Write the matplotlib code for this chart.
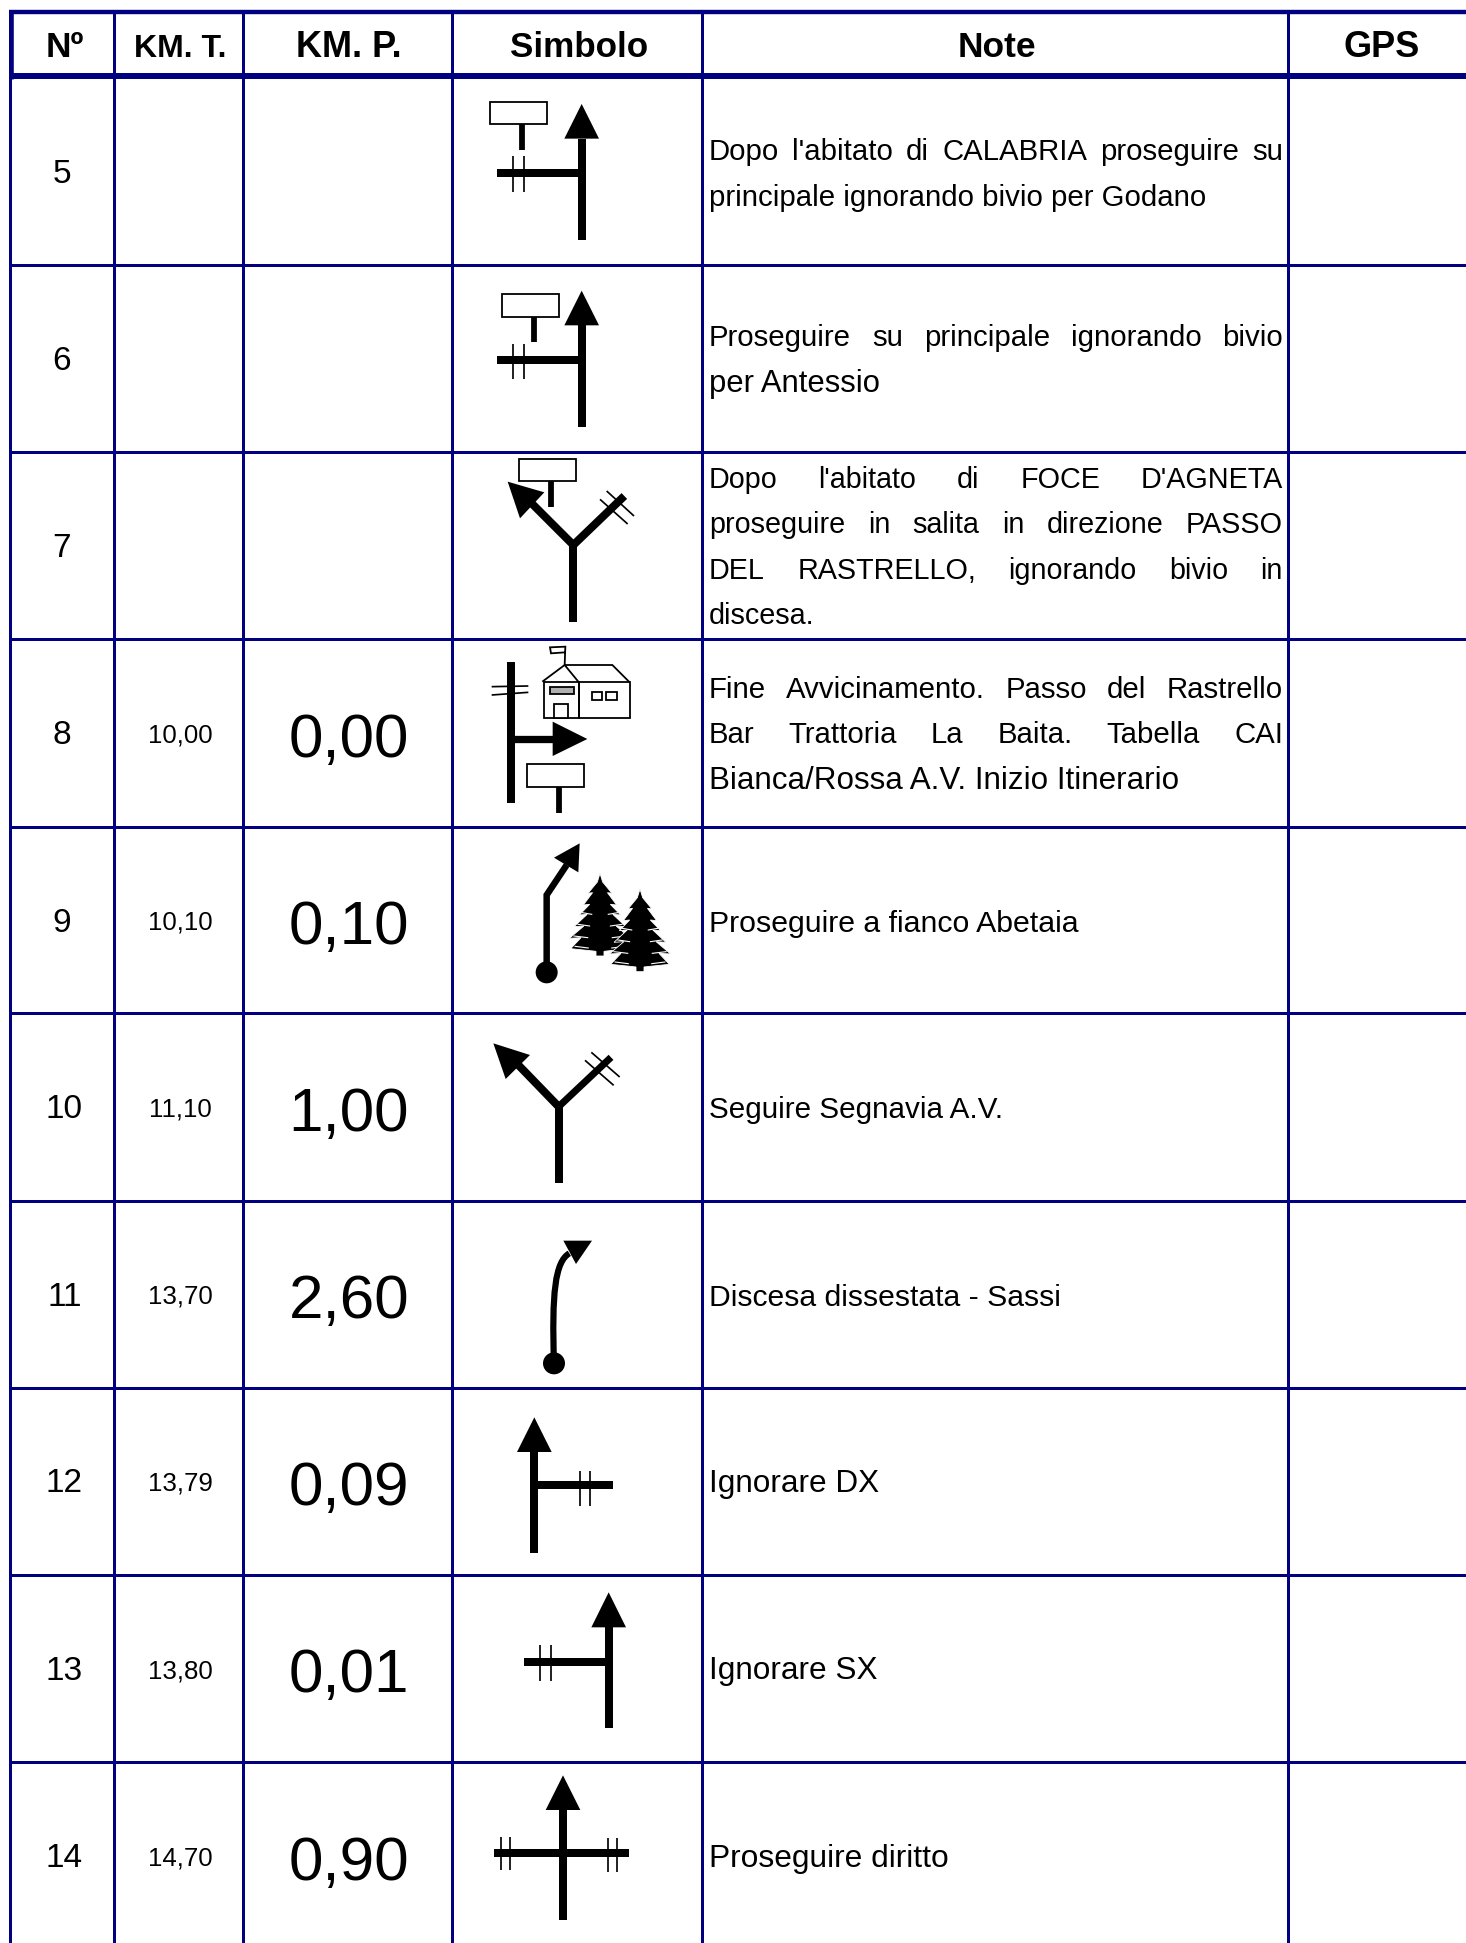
import numpy as np
import matplotlib
matplotlib.use('Agg')
import matplotlib.pyplot as plt
from matplotlib.patches import Polygon, Rectangle, Circle, PathPatch
from matplotlib.path import Path

plt.rcParams['font.family'] = ['Liberation Sans', 'DejaVu Sans']

W, H = 1466, 1943
NAVY = '#000080'
PX = 0.72  # one pixel in points at dpi 100

headers = ['Nº', 'KM. T.', 'KM. P.', 'Simbolo', 'Note', 'GPS']
header_x = [64.5, 180, 349, 579, 997, 1382]
header_size = [25.5, 23, 26, 25.2, 25.5, 26]

numbers = ['5', '6', '7', '8', '9', '10', '11', '12', '13', '14']
km_t = ['', '', '', '10,00', '10,10', '11,10', '13,70', '13,79', '13,80', '14,70']
km_p = ['', '', '', '0,00', '0,10', '1,00', '2,60', '0,09', '0,01', '0,90']
notes = [
    ["Dopo l'abitato di CALABRIA proseguire su", 'principale ignorando bivio per Godano'],
    ['Proseguire su principale ignorando bivio', 'per Antessio'],
    ["Dopo l'abitato di FOCE D'AGNETA", 'proseguire in salita in direzione PASSO',
     'DEL RASTRELLO, ignorando bivio in', 'discesa.'],
    ['Fine Avvicinamento. Passo del Rastrello', 'Bar Trattoria La Baita. Tabella CAI',
     'Bianca/Rossa A.V. Inizio Itinerario'],
    ['Proseguire a fianco Abetaia'],
    ['Seguire Segnavia A.V.'],
    ['Discesa dissestata - Sassi'],
    ['Ignorare DX'],
    ['Ignorare SX'],
    ['Proseguire diritto'],
]
# how many lines of each note are stretched to the cell width
justified = [1, 1, 3, 2, 0, 0, 0, 0, 0, 0]
# first baseline of each note, below the row top
note_first = [81.5, 81, 35.5, 58.7, 105, 105, 105, 104.5, 104.5, 105]
note_step = [46, 46, 45.5, 45.3, 0, 0, 0, 0, 0, 0]
note_size = [21.2, 22.3, 20.7, 22.6, 21.8, 21.3, 21.7, 22.7, 22.7, 22.9]

col_x = [10.4, 114.2, 243.3, 452.3, 702.4, 1287.5]
row_y = [265.2, 452.3, 639.3, 826.5, 1013.4, 1200.5, 1387.5, 1574.7, 1762]
text_top = [78, 265.2, 452.3, 639.3, 826.5, 1013.4, 1200.5, 1387.5, 1574.7, 1762]

fig = plt.figure(figsize=(W / 100, H / 100), dpi=100)
ax = fig.add_axes([0, 0, 1, 1])
ax.set_xlim(0, W)
ax.set_ylim(H, 0)
ax.axis('off')


def rule(xs, ys, px, color=NAVY, zorder=2):
    ax.plot(xs, ys, color=color, lw=px * PX, solid_capstyle='butt', solid_joinstyle='miter', zorder=zorder)


# grid
for x in col_x:
    rule([x, x], [11, H], 3)
for y in row_y:
    rule([col_x[0] - 1.5, W], [y, y], 3)
rule([8.5, W], [11.5, 11.5], 4.4)
rule([8.5, W], [76, 76], 6)
rule([10.8, 10.8], [9.5, 79], 4.6)

# header and text columns
for x, s, fs in zip(header_x, headers, header_size):
    ax.text(x, 57, s, ha='center', va='baseline', fontsize=fs, fontweight='bold', color='black')

renderer = fig.canvas.get_renderer()


def justified_line(s, y, x0, x1, fs):
    words = s.split(' ')
    items = [ax.text(x0, y, w, ha='left', va='baseline', fontsize=fs, color='black') for w in words]
    widths = [t.get_window_extent(renderer).width for t in items]
    gap = (x1 - x0 - sum(widths)) / (len(words) - 1)
    x = x0
    for t, w in zip(items, widths):
        t.set_x(x)
        x += w + gap


for i, top in enumerate(text_top):
    num_x = 61.5 if len(numbers[i]) == 1 else 64.5
    ax.text(num_x, top + 105, numbers[i], ha='center', va='baseline', fontsize=24, color='black')
    if km_t[i]:
        ax.text(180.3, top + 103.4, km_t[i], ha='center', va='baseline', fontsize=18.6, color='black')
        ax.text(348.7, top + 117.5, km_p[i], ha='center', va='baseline', fontsize=44.7, color='black')
    for j, line in enumerate(notes[i]):
        y = top + note_first[i] + j * note_step[i]
        if j < justified[i]:
            justified_line(line, y, 709, 1283, min(note_size[i], 21.2))
        else:
            ax.text(709, y, line, ha='left', va='baseline', fontsize=note_size[i], color='black')


def at(x0, y0):
    return lambda x, y: (x0 + x / 3, y0 + y / 3)


def bar(z, p, q, px=8):
    a, b = z(*p), z(*q)
    rule([a[0], b[0]], [a[1], b[1]], px, 'black')


def head(z, pts):
    ax.add_patch(Polygon([z(*p) for p in pts], closed=True, fc='black', ec='none'))


def box(z, p, q, px=1.8, fc='white'):
    a, b = z(*p), z(*q)
    ax.add_patch(Rectangle(a, b[0] - a[0], b[1] - a[1], fc=fc, ec='black', lw=px * PX))


def ticks(z, pairs):
    for p, q in pairs:
        bar(z, p, q, 1.7)


def sign(z, p, q, post_x, post_end):
    box(z, p, q)
    bar(z, (post_x, q[1]), (post_x, post_end), 5.8)


def up_arrow(z, x, tip, base, end):
    head(z, [(x, tip), (x - 52, base), (x + 52, base)])
    bar(z, (x, base), (x, end))


# row 5
z = at(450, 78.3)
up_arrow(z, 395, 77, 181, 485)
bar(z, (141, 284), (395, 284))
ticks(z, [((190, 234), (190, 340)), ((221, 234), (221, 340))])
sign(z, (120, 70), (290, 138), 216, 215)

# row 6
z = at(450, 265)
up_arrow(z, 395, 77, 181, 485)
bar(z, (141, 286), (395, 286))
ticks(z, [((190, 236), (190, 342)), ((221, 236), (221, 342))])
sign(z, (157, 87), (327, 155), 252, 232)

# row 7
z = at(450, 440)
sign(z, (208, 57), (378, 124), 302, 200)
bar(z, (370, 315), (370, 545))
bar(z, (370, 315), (247, 192))
head(z, [(173, 125), (283, 157), (210, 235)])
bar(z, (370, 315), (523, 168))
ticks(z, [((470, 153), (552, 228)), ((450, 178), (533, 252))])

# row 8
bar(z, (183, 667), (183, 1088))
ticks(z, [((125, 740), (235, 738)), ((125, 765), (235, 757))])
bar(z, (183, 897), (310, 897), 7.3)
head(z, [(308, 845), (412, 897), (308, 948)])
sign(z, (232, 973), (403, 1041), 326, 1118)
box(z, (281, 727), (388, 835), 1.8, 'none')
box(z, (388, 727), (539, 835), 1.8, 'none')
for pts in [[(277, 725), (344, 675), (385, 725)], [(344, 675), (487, 675), (539, 727)],
            [(344, 675), (346, 620), (300, 622), (303, 640), (346, 637)]]:
    xy = np.array([z(*p) for p in pts])
    rule(xy[:, 0], xy[:, 1], 1.8, 'black')
box(z, (301, 740), (371, 763), 1.8, '#b0b0b0')
box(z, (313, 793), (353, 835), 1.8, 'white')
box(z, (425, 757), (456, 781), 1.8, 'white')
box(z, (469, 757), (501, 781), 1.8, 'white')

# row 9
z = at(450, 820)
ax.add_patch(Circle(z(290, 457), 11, fc='black', ec='none'))
xy = np.array([z(290, 457), z(290, 225), z(350, 135)])
rule(xy[:, 0], xy[:, 1], 6.5, 'black')
head(z, [(389, 70), (312, 113), (385, 157)])

# tree outline: half width and drop of each drooping branch tip
tips = [(36, 60), (50, 95), (62, 125), (78, 160), (92, 195), (88, 226)]


def tree(z, cx, top, zo):
    right = [(0, 0), (8, 26)]
    for w, y in tips:
        right.append((w, y))
        if y < 226:
            right.append((w * 0.62, y - 2))
    right += [(30, 232), (12, 234), (12, 248)]
    pts = [(cx + a, top + b) for a, b in right] + [(cx - a, top + b) for a, b in reversed(right)]
    ax.add_patch(Polygon([z(*p) for p in pts], closed=True, fc='black', ec='white', lw=0.6, zorder=zo))
    # white slashes between the lower branches
    for w, y in tips[2:]:
        for s in (-1, 1):
            a, b = z(cx + s * w * 0.85, top + y - 7), z(cx + s * w * 0.4, top + y - 2)
            ax.plot([a[0], b[0]], [a[1], b[1]], color='white', lw=0.8, zorder=zo)


tree(z, 450, 160, 3)
tree(z, 570, 207, 4)

# row 10
bar(z, (326, 860), (326, 1088))
bar(z, (326, 860), (205, 735))
head(z, [(130, 670), (240, 705), (167, 777)])
bar(z, (326, 860), (483, 712), 7)
ticks(z, [((424, 697), (509, 771)), ((405, 721), (491, 796))])

# row 11
z = at(450, 1200)
ax.add_patch(Circle(z(312, 490), 11, fc='black', ec='none'))
curve = Path([z(312, 490), z(305, 280), z(315, 185), z(358, 160)],
             [Path.MOVETO, Path.CURVE4, Path.CURVE4, Path.CURVE4])
ax.add_patch(PathPatch(curve, fc='none', ec='black', lw=6.2 * PX, capstyle='butt'))
head(z, [(340, 122), (426, 122), (378, 192)])

# row 12
up_arrow(z, 253, 652, 756, 1060)
bar(z, (253, 854), (489, 854))
ticks(z, [((389, 812), (389, 918)), ((420, 812), (420, 918))])

# row 13
z = at(450, 1570)
up_arrow(z, 476, 67, 172, 475)
bar(z, (221, 276), (476, 276))
ticks(z, [((270, 226), (270, 332)), ((302, 226), (302, 332))])

# row 14
up_arrow(z, 339, 616, 720, 1049)
bar(z, (133, 850), (538, 850))
ticks(z, [((153, 800), (153, 900)), ((179, 800), (179, 900)),
          ((475, 805), (475, 905)), ((501, 805), (501, 905))])

fig.savefig('out.png', dpi=100, facecolor='white')
